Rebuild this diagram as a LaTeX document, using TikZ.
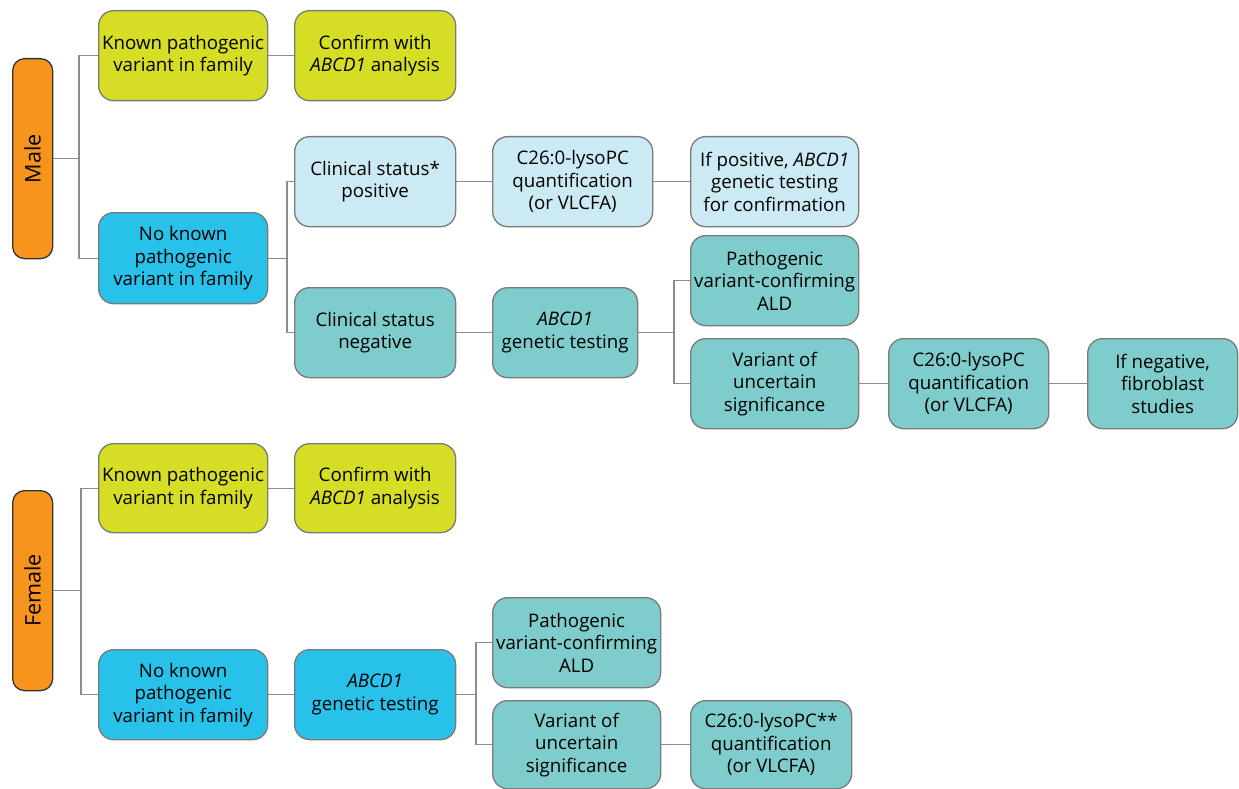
\documentclass[tikz,border=0pt]{standalone}
\usepackage{fontspec}
\setmainfont{Open Sans}
\definecolor{cyel}{HTML}{D5DE24}
\definecolor{cblue}{HTML}{27C1EA}
\definecolor{clblue}{HTML}{CCEAF4}
\definecolor{cteal}{HTML}{7ECCCB}
\definecolor{corange}{HTML}{F7941E}
\definecolor{cline}{HTML}{8C8C8C}
\definecolor{cborder}{HTML}{7A7A7A}
\tikzset{
  box/.style={draw=cborder, line width=1.3pt, rounded corners=15pt, anchor=north west,
    inner sep=0pt, align=center, font=\fontsize{18.7}{22.5}\selectfont, text=black},
  bx/.style args={#1/#2}{box, minimum width=#1pt, minimum height=#2pt},
  yel/.style={fill=cyel}, blu/.style={fill=cblue}, lbl/.style={fill=clblue}, tea/.style={fill=cteal},
  sexbox/.style={draw=black!80, line width=1.3pt, rounded corners=12pt, fill=corange, anchor=north west,
    inner sep=0pt, minimum width=40pt, minimum height=200pt},
  sexlabel/.style={rotate=90, font=\fontsize{21.5}{24}\selectfont},
  conn/.style={draw=cline, line width=1.3pt}
}
\begin{document}
\begin{tikzpicture}[x=1pt,y=-1pt]
\useasboundingbox (0,0) rectangle (1239,789);
% Male
\node[sexbox] (male) at (12,58) {};
\node[sexlabel] (malet) at (male.center) {Male};
\node[bx=169/90, yel] (mk) at (98,10) {Known pathogenic\\variant in family};
\node[bx=161/90, yel] (mc) at (294,10) {Confirm with\\\textit{ABCD1} analysis};
\node[bx=169/91, blu] (mn) at (98,212) {No known\\pathogenic\\variant in family};
\node[bx=161/90, lbl] (mp) at (294,136) {Clinical status*\\positive};
\node[bx=160/90, lbl] (mpc) at (492,136) {C26:0-lysoPC\\quantification\\(or VLCFA)};
\node[bx=168/90, lbl] (mpi) at (690,136) {If positive, \textit{ABCD1}\\genetic testing\\for confirmation};
\node[bx=161/90, tea] (mneg) at (294,287) {Clinical status\\negative};
\node[bx=145/90, tea] (mg) at (492,287) {\textit{ABCD1}\\genetic testing};
\node[bx=168/90, tea] (mpa) at (690,235) {Pathogenic\\variant-confirming\\ALD};
\node[bx=168/90, tea] (mv) at (690,338) {Variant of\\uncertain\\significance};
\node[bx=160/90, tea] (mvc) at (888,338) {C26:0-lysoPC\\quantification\\(or VLCFA)};
\node[bx=150/90, tea] (mvf) at (1087,338) {If negative,\\fibroblast\\studies};
% Female
\node[sexbox] (fem) at (12,490) {};
\node[sexlabel] (femt) at (fem.center) {Female};
\node[bx=169/89, yel] (fk) at (98,443) {Known pathogenic\\variant in family};
\node[bx=161/89, yel] (fc) at (294,443) {Confirm with\\\textit{ABCD1} analysis};
\node[bx=169/90, blu] (fn) at (98,649) {No known\\pathogenic\\variant in family};
\node[bx=161/90, blu] (fg) at (294,649) {\textit{ABCD1}\\genetic testing};
\node[bx=168/90, tea] (fpa) at (492,597) {Pathogenic\\variant-confirming\\ALD};
\node[bx=168/88, tea] (fv) at (492,700) {Variant of\\uncertain\\significance};
\node[bx=161/88, tea] (fvc) at (690,700) {C26:0-lysoPC**\\quantification\\(or VLCFA)};
% junction x positions
\coordinate (j1) at (79,0);
\coordinate (j2) at (287,0);
\coordinate (j3) at (674,0);
\coordinate (j4) at (81,0);
\coordinate (j5) at (476,0);
% connectors male
\draw[conn] (male.east) -- (male.east -| j1);
\draw[conn] (mk.west) -| (mn.west -| j1) -- (mn.west);
\draw[conn] (mk.east) -- (mc.west);
\draw[conn] (mn.east) -- (mn.east -| j2);
\draw[conn] (mp.west) -| (mneg.west -| j2) -- (mneg.west);
\draw[conn] (mp.east) -- (mpc.west);
\draw[conn] (mpc.east) -- (mpi.west);
\draw[conn] (mneg.east) -- (mg.west);
\draw[conn] (mg.east) -- (mg.east -| j3);
\draw[conn] (mpa.west) -| (mv.west -| j3) -- (mv.west);
\draw[conn] (mv.east) -- (mvc.west);
\draw[conn] (mvc.east) -- (mvf.west);
% connectors female
\draw[conn] (fem.east) -- (fem.east -| j4);
\draw[conn] (fk.west) -| (fn.west -| j4) -- (fn.west);
\draw[conn] (fk.east) -- (fc.west);
\draw[conn] (fn.east) -- (fg.west);
\draw[conn] (fg.east) -- (fg.east -| j5);
\draw[conn] (fpa.west) -| (fv.west -| j5) -- (fv.west);
\draw[conn] (fv.east) -- (fvc.west);
\end{tikzpicture}
\end{document}
